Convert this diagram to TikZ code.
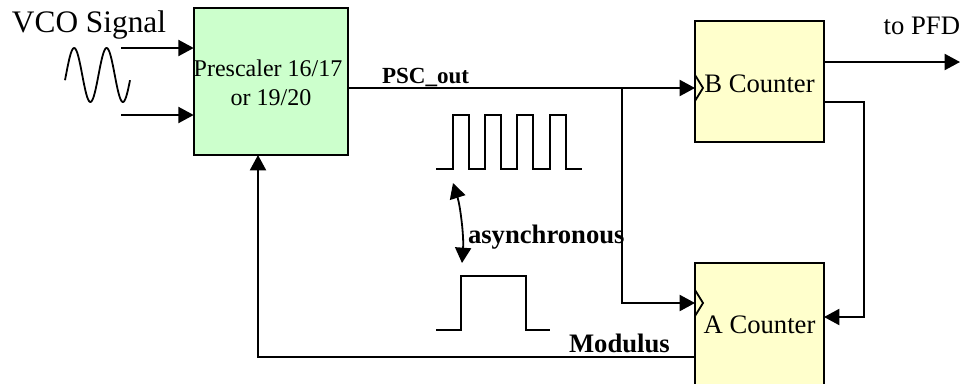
\documentclass[tikz,border=0pt]{standalone}
\usepackage{fontspec}
\setmainfont{Liberation Serif}
\usetikzlibrary{positioning, arrows.meta}
\definecolor{pscgreen}{RGB}{204, 255, 204}
\definecolor{cntyellow}{RGB}{255, 255, 204}
\begin{document}
\begin{tikzpicture}[
                x=0.75pt, y=-0.75pt,
                block/.style={rectangle, draw=black, line width=1.5pt, inner sep=0pt,
                    outer sep=0pt, align=center, font=\fontsize{20}{22}\selectfont},
                counter/.style={block, fill=cntyellow, minimum width=96.75pt},
                line/.style={-{Triangle[length=11.5pt, width=12pt]}, line width=1.5pt},
                wire/.style={line width=1.35pt},
                label/.style={inner sep=0pt, outer sep=0pt, font=\fontsize{20}{22}\selectfont},
                tag/.style={label, font=\fontsize{20}{22}\selectfont\bfseries}
                ]
                \clip (0,0) rectangle (962,383);
                \node[block, fill=pscgreen, minimum width=115.5pt, minimum height=110.25pt,
                    font=\fontsize{18}{21.75}\selectfont] (psc) at (271,81.5)
                    {\rule{0pt}{14pt}Prescaler 16/17\hspace*{4.5pt}\\or 19/20};
                \node[counter, minimum height=90.75pt, text height=15.8pt, text depth=0pt] (bcnt) at (759.5,81.5) {B Counter};
                \node[counter, minimum height=93pt, below=90.75pt of bcnt, text height=12pt, text depth=0pt] (acnt) {A Counter};
                \node[label, font=\fontsize{23.5}{26}\selectfont, anchor=base west] (vco) at (12,32) {VCO Signal};
                \node[label, anchor=base east] (pfd) at (960,34) {to PFD};
                \node[tag, font=\fontsize{17.3}{20}\selectfont\bfseries, anchor=base west] (pscout) at (382,83) {PSC\_out};
                \node[tag, anchor=base west] (async) at (468,243) {asynchronous};
                \node[tag, anchor=base west] (mod) at (569,352) {Modulus};
                \coordinate (vcoa) at (121,48);
                \coordinate (vcob) at (121,115);
                \coordinate (jct) at (622,88);
                \coordinate (tap) at (864,102);
                \coordinate (pfdout) at (960,62);
                % inputs
                \draw[line] (vcoa) -- (vcoa -| psc.west);
                \draw[line] (vcob) -- (vcob -| psc.west);
                % clock path
                \draw[line] (jct -| psc.east) -- (jct -| bcnt.west);
                \draw[line] (jct) |- ([yshift=16.5pt]acnt.west);
                % counters
                \draw[line] (pfdout -| bcnt.east) -- (pfdout);
                \draw[line] (tap -| bcnt.east) -- (tap) |- ([yshift=6pt]acnt.east);
                \draw[line] ([yshift=-24pt]acnt.west) -| ([xshift=-9.75pt]psc.south);
                % clock marks
                \draw[wire] ([yshift=4.9pt]bcnt.west) -- ++(8,13) -- ++(-8,13);
                \draw[wire] ([yshift=26.25pt]acnt.west) -- ++(8,13) -- ++(-8,13);
                % sine
                \draw[wire, domain=65:130, samples=80, smooth]
                    plot (\x, {75-27*sin((\x-66)*11.077)});
                % waveforms
                \draw[wire] (436,169) -- (453,169) -- (453,115) -- (469,115) -- (469,169)
                    -- (485,169) -- (485,115) -- (501,115) -- (501,169)
                    -- (517,169) -- (517,115) -- (533,115) -- (533,169)
                    -- (550,169) -- (550,115) -- (566,115) -- (566,169) -- (582,169);
                \draw[wire] (436,330) -- (461,330) -- (461,276) -- (526,276) -- (526,330) -- (550,330);
                \draw[{Triangle[length=11.5pt, width=12pt]}-{Triangle[length=11.5pt, width=12pt]}, line width=1.35pt]
                    (453,183) .. controls (460,205) and (464,235) .. (462,263);
            \end{tikzpicture}
\end{document}
